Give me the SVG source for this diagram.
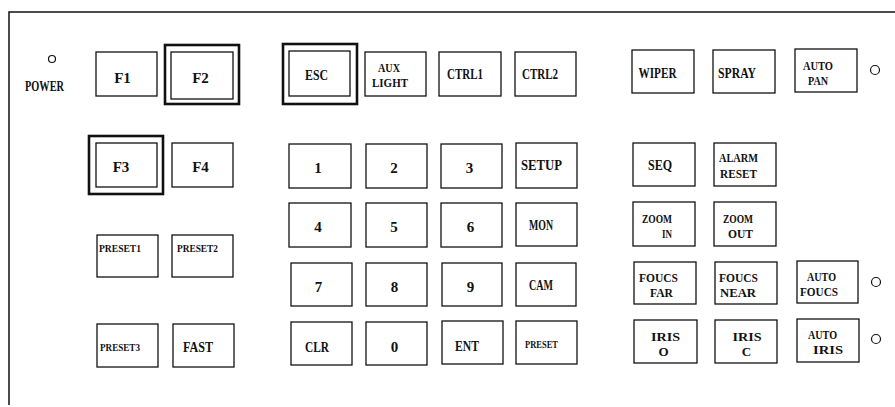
<svg xmlns="http://www.w3.org/2000/svg" width="895" height="407" viewBox="0 0 895 407">
<style>
.k{fill:#fff;stroke:#111;stroke-width:1.3}
.o{fill:none;stroke:#111;stroke-width:2.6}
.led{fill:#fff;stroke:#111;stroke-width:1.2}
text{font-family:"Liberation Serif","Times New Roman",serif;font-weight:bold;font-size:15px;fill:#111;text-anchor:middle}
.s{font-size:11px}
.t{font-size:13px}
</style>
<rect width="895" height="407" fill="#fff"/>
<g id="frame"><path d="M9,405 V12 H895" fill="none" stroke="#111" stroke-width="1.5"/></g>
<g id="power"><circle class="led" cx="52" cy="59" r="3.5"/><text x="44.5" y="91" textLength="39" lengthAdjust="spacingAndGlyphs">POWER</text></g>
<g id="F1"><rect class="k" x="96" y="52" width="61" height="44"/><text x="122.5" y="83">F1</text></g>
<g id="F2"><rect class="o" x="165" y="45" width="74" height="59"/><rect class="k" x="171" y="52" width="62" height="47"/><text x="200.5" y="83">F2</text></g>
<g id="ESC"><rect class="o" x="283" y="44" width="74" height="60"/><rect class="k" x="289" y="51" width="61" height="45"/><text x="316.5" y="80" textLength="23" lengthAdjust="spacingAndGlyphs">ESC</text></g>
<g id="AUX"><rect class="k" x="365" y="52" width="61" height="44"/><text class="t" x="389" y="72" textLength="22" lengthAdjust="spacingAndGlyphs">AUX</text><text class="t" x="390" y="87" textLength="36" lengthAdjust="spacingAndGlyphs">LIGHT</text></g>
<g id="CTRL1"><rect class="k" x="439" y="52" width="62" height="44"/><text x="465" y="79" textLength="36" lengthAdjust="spacingAndGlyphs">CTRL1</text></g>
<g id="CTRL2"><rect class="k" x="515" y="52" width="61" height="44"/><text x="540" y="79" textLength="36" lengthAdjust="spacingAndGlyphs">CTRL2</text></g>
<g id="WIPER"><rect class="k" x="632" y="50" width="62" height="43"/><text x="657.5" y="78" textLength="38" lengthAdjust="spacingAndGlyphs">WIPER</text></g>
<g id="SPRAY"><rect class="k" x="713" y="50" width="62" height="43"/><text x="737" y="78" textLength="38" lengthAdjust="spacingAndGlyphs">SPRAY</text></g>
<g id="AUTOPAN"><rect class="k" x="795" y="49" width="62" height="43"/><text class="t" x="818" y="70" textLength="30" lengthAdjust="spacingAndGlyphs">AUTO</text><text class="t" x="818" y="85" textLength="20" lengthAdjust="spacingAndGlyphs">PAN</text><circle class="led" cx="875" cy="70" r="4.5"/></g>
<g id="F3"><rect class="o" x="89" y="136" width="74" height="58"/><rect class="k" x="96" y="143" width="61" height="44"/><text x="121" y="172">F3</text></g>
<g id="F4"><rect class="k" x="172" y="143" width="61" height="44"/><text x="200.5" y="172">F4</text></g>
<g id="PRESET1"><rect class="k" x="97" y="235" width="61" height="42"/><text class="s" x="120" y="252" textLength="42" lengthAdjust="spacingAndGlyphs">PRESET1</text></g>
<g id="PRESET2"><rect class="k" x="172" y="235" width="61" height="42"/><text class="s" x="197.5" y="252" textLength="41" lengthAdjust="spacingAndGlyphs">PRESET2</text></g>
<g id="PRESET3"><rect class="k" x="97" y="324" width="61" height="43"/><text class="s" x="120" y="351" textLength="40" lengthAdjust="spacingAndGlyphs">PRESET3</text></g>
<g id="FAST"><rect class="k" x="173" y="324" width="61" height="43"/><text x="198" y="352" textLength="30" lengthAdjust="spacingAndGlyphs">FAST</text></g>
<g id="K1"><rect class="k" x="289" y="144" width="62" height="44"/><text x="318" y="173">1</text></g>
<g id="K2"><rect class="k" x="366" y="144" width="61" height="44"/><text x="394" y="173">2</text></g>
<g id="K3"><rect class="k" x="441" y="144" width="61" height="44"/><text x="469.5" y="173">3</text></g>
<g id="SETUP"><rect class="k" x="516" y="143" width="61" height="45"/><text x="541.5" y="170" textLength="41" lengthAdjust="spacingAndGlyphs">SETUP</text></g>
<g id="K4"><rect class="k" x="289" y="203" width="62" height="44"/><text x="318" y="232">4</text></g>
<g id="K5"><rect class="k" x="366" y="203" width="61" height="44"/><text x="394" y="232">5</text></g>
<g id="K6"><rect class="k" x="441" y="203" width="61" height="44"/><text x="470.5" y="232">6</text></g>
<g id="MON"><rect class="k" x="516" y="203" width="61" height="43"/><text x="541" y="230" textLength="24" lengthAdjust="spacingAndGlyphs">MON</text></g>
<g id="K7"><rect class="k" x="291" y="263" width="61" height="43"/><text x="318.5" y="292">7</text></g>
<g id="K8"><rect class="k" x="366" y="263" width="61" height="43"/><text x="394.5" y="292">8</text></g>
<g id="K9"><rect class="k" x="442" y="263" width="60" height="43"/><text x="470.5" y="292">9</text></g>
<g id="CAM"><rect class="k" x="516" y="263" width="60" height="43"/><text x="541" y="290" textLength="24" lengthAdjust="spacingAndGlyphs">CAM</text></g>
<g id="CLR"><rect class="k" x="291" y="322" width="61" height="43"/><text x="317" y="352" textLength="24" lengthAdjust="spacingAndGlyphs">CLR</text></g>
<g id="K0"><rect class="k" x="366" y="322" width="61" height="43"/><text x="394.5" y="352">0</text></g>
<g id="ENT"><rect class="k" x="442" y="321" width="61" height="43"/><text x="467" y="351" textLength="24" lengthAdjust="spacingAndGlyphs">ENT</text></g>
<g id="PRESET"><rect class="k" x="516" y="321" width="61" height="43"/><text class="s" x="541.5" y="348" textLength="33" lengthAdjust="spacingAndGlyphs">PRESET</text></g>
<g id="SEQ"><rect class="k" x="633" y="143" width="62" height="43"/><text x="660" y="170" textLength="24" lengthAdjust="spacingAndGlyphs">SEQ</text></g>
<g id="ALARM"><rect class="k" x="714" y="143" width="62" height="43"/><text class="t" x="738.5" y="162" textLength="39" lengthAdjust="spacingAndGlyphs">ALARM</text><text class="t" x="738.5" y="178" textLength="37" lengthAdjust="spacingAndGlyphs">RESET</text></g>
<g id="ZOOMIN"><rect class="k" x="633" y="202" width="62" height="44"/><text class="t" x="657" y="223" textLength="30" lengthAdjust="spacingAndGlyphs">ZOOM</text><text class="t" x="667" y="238" textLength="10" lengthAdjust="spacingAndGlyphs">IN</text></g>
<g id="ZOOMOUT"><rect class="k" x="714" y="202" width="62" height="44"/><text class="t" x="738" y="223" textLength="30" lengthAdjust="spacingAndGlyphs">ZOOM</text><text class="t" x="740.5" y="238" textLength="25" lengthAdjust="spacingAndGlyphs">OUT</text></g>
<g id="FOUCSFAR"><rect class="k" x="634" y="262" width="62" height="42"/><text class="t" x="658.5" y="282" textLength="39" lengthAdjust="spacingAndGlyphs">FOUCS</text><text class="t" x="661.5" y="297" textLength="23" lengthAdjust="spacingAndGlyphs">FAR</text></g>
<g id="FOUCSNEAR"><rect class="k" x="715" y="262" width="62" height="42"/><text class="t" x="738.5" y="282" textLength="39" lengthAdjust="spacingAndGlyphs">FOUCS</text><text class="t" x="738" y="297" textLength="36" lengthAdjust="spacingAndGlyphs">NEAR</text></g>
<g id="AUTOFOUCS"><rect class="k" x="797" y="261" width="61" height="42"/><text class="t" x="821.5" y="281" textLength="29" lengthAdjust="spacingAndGlyphs">AUTO</text><text class="t" x="819" y="296" textLength="38" lengthAdjust="spacingAndGlyphs">FOUCS</text><circle class="led" cx="876" cy="282" r="4.5"/></g>
<g id="IRISO"><rect class="k" x="634" y="320" width="63" height="43"/><text class="t" x="665.5" y="341" textLength="29" lengthAdjust="spacingAndGlyphs">IRIS</text><text class="t" x="663.5" y="356">O</text></g>
<g id="IRISC"><rect class="k" x="715" y="320" width="62" height="43"/><text class="t" x="747" y="341" textLength="29" lengthAdjust="spacingAndGlyphs">IRIS</text><text class="t" x="746.5" y="356">C</text></g>
<g id="AUTOIRIS"><rect class="k" x="797" y="319" width="62" height="43"/><text class="t" x="822.5" y="339" textLength="29" lengthAdjust="spacingAndGlyphs">AUTO</text><text class="t" x="828" y="354" textLength="30" lengthAdjust="spacingAndGlyphs">IRIS</text><circle class="led" cx="876" cy="339" r="4.5"/></g>
<g id="connectors"></g>
</svg>
